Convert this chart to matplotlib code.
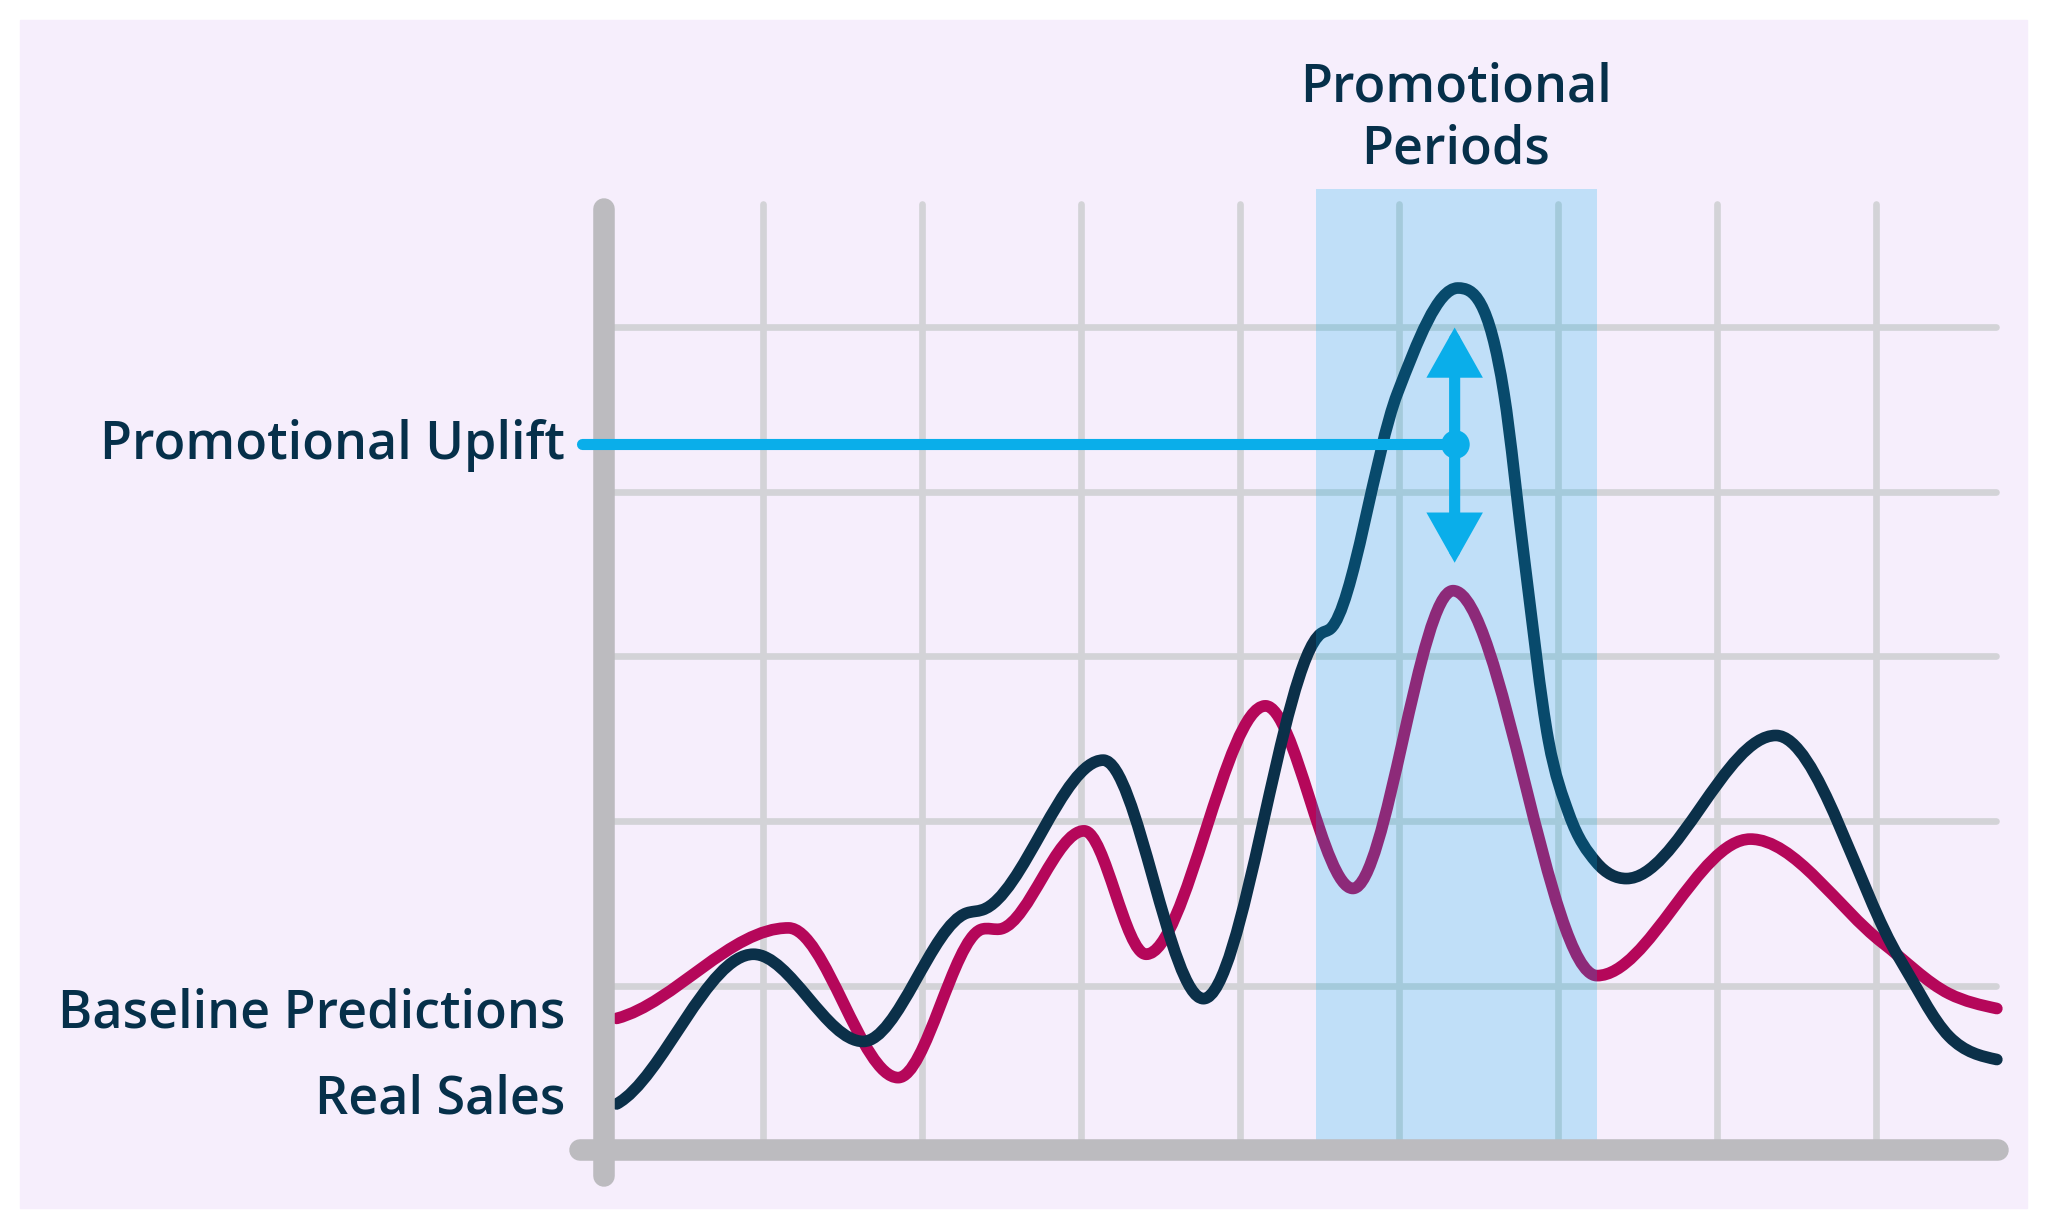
import numpy as np
import matplotlib
matplotlib.use("Agg")
import matplotlib.pyplot as plt
from matplotlib.path import Path
from matplotlib.patches import PathPatch, Rectangle, FancyArrowPatch

# ---- data (grid units) ----
real_x = [0.08, 0.94, 1.63, 2.28, 2.38, 3.14, 3.77, 4.51, 4.57, 4.99, 5.37, 5.66,
          5.79, 5.94, 6.07, 6.24, 6.43, 7.37, 8.15, 8.46, 8.76]
real_y = [0.28, 1.19, 0.66, 1.44, 1.46, 2.37, 0.92, 3.14, 3.17, 4.60, 5.24, 4.60,
          3.58, 2.49, 2.04, 1.75, 1.65, 2.52, 1.16, 0.69, 0.55]

base_x = [0.08, 1.16, 1.85, 2.37, 2.50, 3.02, 3.41, 4.16, 4.71, 5.34, 6.245,
          7.21, 8.04, 8.46, 8.76]
base_y = [0.80, 1.35, 0.44, 1.34, 1.345, 1.94, 1.19, 2.70, 1.59, 3.40, 1.06,
          1.89, 1.26, 0.95, 0.86]

promo_start, promo_end = 4.48, 6.245
uplift_x = 5.35
uplift_level = 4.29
uplift_top, uplift_bottom = 5.0, 3.57

x_grid = [1, 2, 3, 4, 5, 6, 7, 8]
y_grid = [1, 2, 3, 4, 5]

NAVY = "#0b3049"
CRIMSON = "#b5075a"
CYAN = "#0aaeea"
TEXT = "#06304a"
GRID = "#d3d3d7"
AXIS = "#bcbbbf"
BG = "#f6eefc"


def smooth_path(xs, ys):
    # cubic hermite through the points, flat at turning points
    xs = np.asarray(xs, float)
    ys = np.asarray(ys, float)
    h = np.diff(xs)
    s = np.diff(ys) / h
    n = len(xs)
    t = np.zeros(n)
    for i in range(1, n - 1):
        s0, s1, h0, h1 = s[i - 1], s[i], h[i - 1], h[i]
        if np.sign(s0) == np.sign(s1):
            t[i] = (s0 * h1 + s1 * h0) / (h0 + h1)
    t[0] = 0.5 * s[0]
    t[-1] = (3 * s[-1] - t[-2]) / 2
    verts = [(xs[0], ys[0])]
    codes = [Path.MOVETO]
    for i in range(n - 1):
        dx = h[i] / 3
        verts += [(xs[i] + dx, ys[i] + dx * t[i]),
                  (xs[i + 1] - dx, ys[i + 1] - dx * t[i + 1]),
                  (xs[i + 1], ys[i + 1])]
        codes += [Path.CURVE4] * 3
    return Path(verts, codes)


W, H = 2048, 1229
fig = plt.figure(figsize=(W / 100, H / 100), dpi=100)
fig.patch.set_facecolor("white")
fig.patches.append(Rectangle((20 / W, 1 - 1208 / H), 2007 / W, 1188 / H,
                             transform=fig.transFigure, color=BG, zorder=-5))

ax = fig.add_axes([0, 0, 1, 1])
ax.set_zorder(1)
ax.set_facecolor("none")
ax.axis("off")
ox, oy, sx, sy = 604, 1150, 159, 164.5
ax.set_xlim(-ox / sx, (W - ox) / sx)
ax.set_ylim((oy - H) / sy, oy / sy)

# grid
for gx in x_grid:
    ax.plot([gx, gx], [0, 5.75], color=GRID, lw=4.8, solid_capstyle="round", zorder=1)
for gy in y_grid:
    ax.plot([0, 8.755], [gy, gy], color=GRID, lw=4.8, solid_capstyle="round", zorder=1)

# series
ax.add_patch(PathPatch(smooth_path(base_x, base_y), fill=False, edgecolor=CRIMSON,
                       lw=8.4, capstyle="round", joinstyle="round", zorder=3))
ax.add_patch(PathPatch(smooth_path(real_x, real_y), fill=False, edgecolor=NAVY,
                       lw=8.4, capstyle="round", joinstyle="round", zorder=4))

# promotional period shading (over the lines)
ax.add_patch(Rectangle((promo_start, 0.06), promo_end - promo_start, 5.78,
                       facecolor="#00aaea", alpha=0.22, lw=0, zorder=5))

# axes
ax.plot([0, 0], [-0.16, 5.72], color=AXIS, lw=15.5, solid_capstyle="round", zorder=6)
ax.plot([-0.15, 8.77], [0, 0], color=AXIS, lw=15.5, solid_capstyle="round", zorder=6)

# uplift marker
ax.plot([-0.14, uplift_x], [uplift_level, uplift_level], color=CYAN, lw=8,
        solid_capstyle="round", zorder=7)
ax.add_patch(FancyArrowPatch((uplift_x, uplift_bottom), (uplift_x, uplift_top),
                             arrowstyle="<|-|>,head_length=24,head_width=13.5",
                             mutation_scale=1, color=CYAN, lw=8, shrinkA=0, shrinkB=0,
                             joinstyle="miter", zorder=7))
ax.scatter([uplift_x], [uplift_level], s=420, color=CYAN, zorder=8, linewidths=0)

# labels
font = dict(family="Open Sans", weight="semibold", size=37.5, color=TEXT)
fig.text(565 / W, 1 - 459 / H, "Promotional Uplift", ha="right", va="baseline", **font)
fig.text(565 / W, 1 - 1027 / H, "Baseline Predictions", ha="right", va="baseline", **font)
fig.text(565 / W, 1 - 1114 / H, "Real Sales", ha="right", va="baseline", **font)
fig.text(1456 / W, 1 - 102 / H, "Promotional", ha="center", va="baseline", **font)
fig.text(1456 / W, 1 - 164 / H, "Periods", ha="center", va="baseline", **font)

fig.savefig("out.png", dpi=100, facecolor=fig.get_facecolor())
